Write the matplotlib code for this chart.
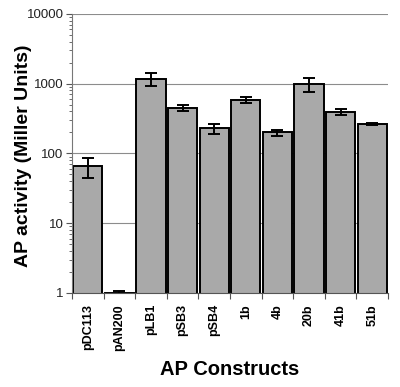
import numpy as np
import matplotlib
matplotlib.use("Agg")
import matplotlib.pyplot as plt
from matplotlib.ticker import LogLocator, FixedLocator, NullFormatter

plt.rcParams["font.family"] = ["Liberation Sans", "DejaVu Sans"]

# ========= DATA =========
constructs = ["pDC113", "pAN200", "pLB1", "pSB3", "pSB4", "1b", "4b", "20b", "41b", "51b"]
activity = [65, 1.0, 1180, 450, 228, 590, 200, 980, 395, 265]
errors = [20, 0.08, 260, 50, 36, 65, 20, 210, 45, 10]

fig = plt.figure(figsize=(4.0, 3.87), dpi=100)
ax = fig.add_axes([0.18, 0.243, 0.79, 0.721])

x = np.arange(len(constructs))
ax.set_yscale("log")
ax.set_xlim(-0.5, len(constructs) - 0.5)

ax.yaxis.grid(True, which="major", color="#8c8c8c", linewidth=0.8)
ax.set_axisbelow(True)

ax.bar(x, activity, width=0.92, color="#a9a9a9", edgecolor="black",
       linewidth=1.4, zorder=2)
ax.errorbar(x, activity, yerr=errors, fmt="none", ecolor="black",
            elinewidth=1.4, capsize=4, capthick=1.4, zorder=3)
ax.set_ylim(1, 10000)

# y axis
ax.yaxis.set_minor_locator(LogLocator(base=10, subs=np.arange(2, 10), numticks=10))
ax.yaxis.set_minor_formatter(NullFormatter())
ax.set_yticks([1, 10, 100, 1000, 10000])
ax.set_yticklabels(["1", "10", "100", "1000", "10000"], fontsize=9.5, color="#222222")
ax.tick_params(axis="y", which="major", length=4, width=0.8, color="#555555", pad=2)
ax.tick_params(axis="y", which="minor", length=2, width=0.6, color="#555555")

# x axis: labels at centers, ticks at boundaries
ax.set_xticks(x)
ax.set_xticklabels(constructs, rotation=90, fontsize=9, fontweight="bold")
ax.xaxis.set_minor_locator(FixedLocator(np.arange(-0.5, len(constructs), 1.0)))
ax.tick_params(axis="x", which="major", length=0, pad=8)
ax.tick_params(axis="x", which="minor", length=4, width=0.8, color="#555555")

for side in ["top", "right"]:
    ax.spines[side].set_visible(False)
ax.spines["left"].set_color("#777777")
ax.spines["left"].set_linewidth(0.8)
ax.spines["bottom"].set_color("#555555")
ax.spines["bottom"].set_linewidth(0.8)

ax.set_ylabel("AP activity (Miller Units)", fontsize=14, fontweight="bold")
ax.yaxis.set_label_coords(-0.125, 0.49)
ax.set_xlabel("AP Constructs", fontsize=14.5, fontweight="bold", labelpad=7)

fig.savefig("out.png", dpi=100)
